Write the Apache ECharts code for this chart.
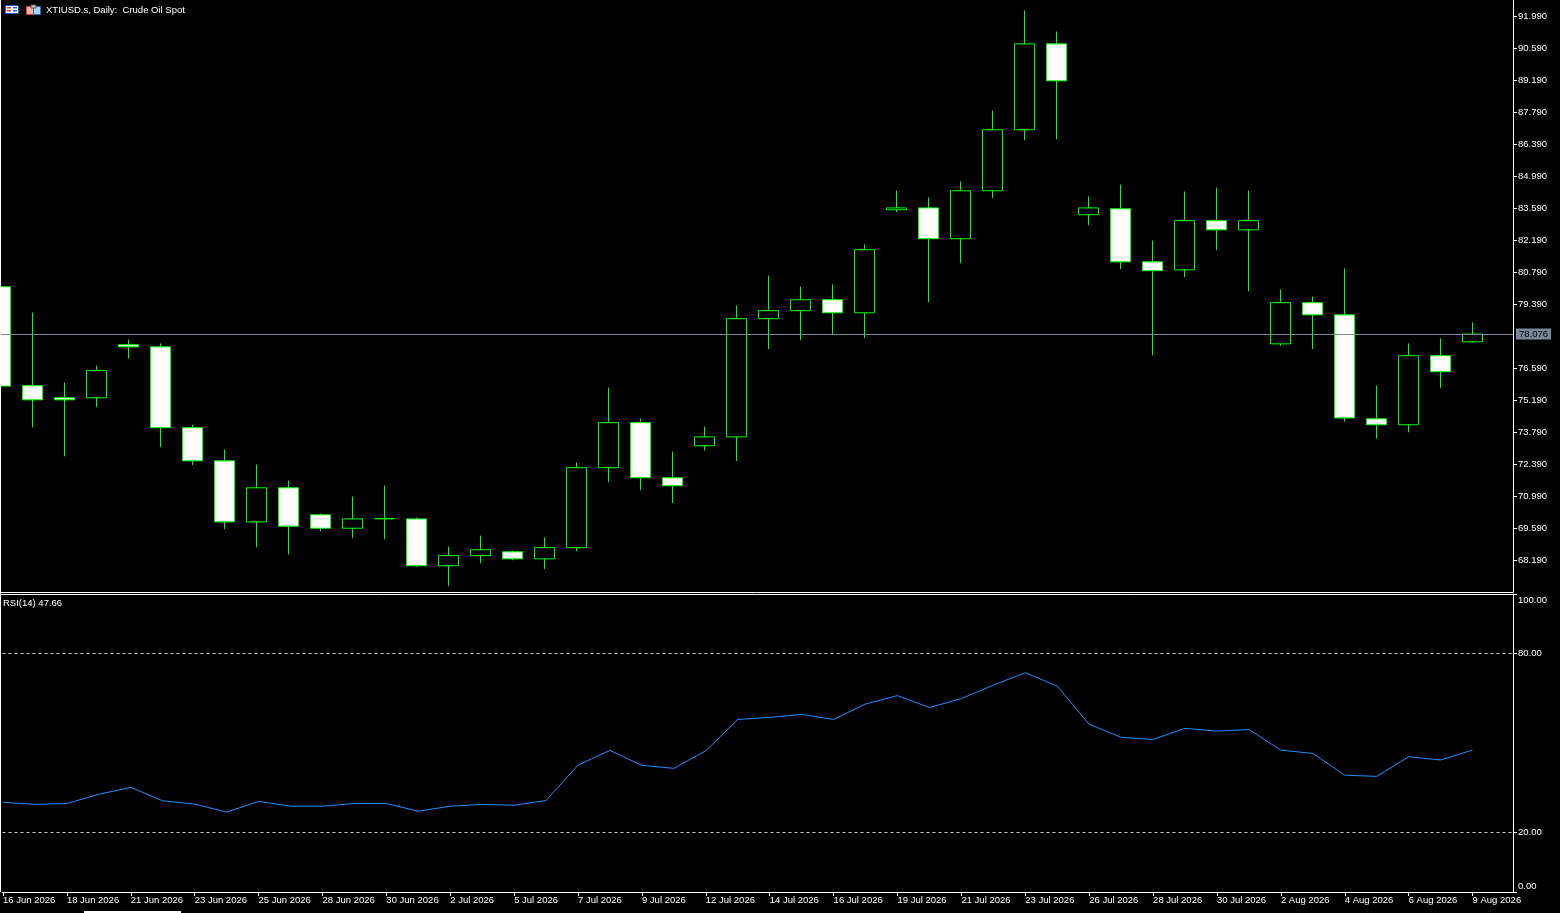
<!DOCTYPE html>
<html>
<head>
<meta charset="utf-8">
<title>XTIUSD.s, Daily</title>
<script src="https://cdn.jsdelivr.net/npm/echarts@6.0.0/dist/echarts.min.js"></script>
<style>
  html, body { margin: 0; padding: 0; background: #000; }
  #main { width: 1560px; height: 913px; }
</style>
</head>
<body>
<div id="main"></div>
<script>
// daily bars, MT4 style (no Saturday bars)
const dates = [
  '16 Jun 2026', '17 Jun 2026', '18 Jun 2026', '19 Jun 2026', '21 Jun 2026', '22 Jun 2026',
  '23 Jun 2026', '24 Jun 2026', '25 Jun 2026', '26 Jun 2026', '28 Jun 2026', '29 Jun 2026',
  '30 Jun 2026', '1 Jul 2026', '2 Jul 2026', '3 Jul 2026', '5 Jul 2026', '6 Jul 2026',
  '7 Jul 2026', '8 Jul 2026', '9 Jul 2026', '10 Jul 2026', '12 Jul 2026', '13 Jul 2026',
  '14 Jul 2026', '15 Jul 2026', '16 Jul 2026', '17 Jul 2026', '19 Jul 2026', '20 Jul 2026',
  '21 Jul 2026', '22 Jul 2026', '23 Jul 2026', '24 Jul 2026', '26 Jul 2026', '27 Jul 2026',
  '28 Jul 2026', '29 Jul 2026', '30 Jul 2026', '31 Jul 2026', '2 Aug 2026', '3 Aug 2026',
  '4 Aug 2026', '5 Aug 2026', '6 Aug 2026', '7 Aug 2026', '9 Aug 2026'
];
const opens = [
  80.15, 75.82, 75.29, 75.29, 77.61, 77.52, 73.98, 72.53, 69.86, 71.35, 70.17, 69.58,
  69.99, 69.99, 67.94, 68.38, 68.55, 68.24, 68.73, 72.23, 74.20, 71.79, 73.19, 73.58,
  78.75, 79.10, 79.58, 79.01, 83.52, 83.60, 82.25, 84.35, 87.02, 90.78, 83.30, 83.56,
  81.24, 80.89, 83.04, 82.64, 77.65, 79.45, 78.92, 74.37, 74.11, 77.13, 77.74
];
const closes = [
  75.80, 75.20, 75.20, 76.48, 77.52, 73.98, 72.53, 69.86, 71.35, 69.67, 69.58, 69.99,
  70.01, 67.94, 68.38, 68.64, 68.24, 68.73, 72.23, 74.20, 71.79, 71.44, 73.58, 78.75,
  79.10, 79.58, 79.01, 81.77, 83.60, 82.25, 84.35, 87.02, 90.78, 89.16, 83.60, 81.24,
  80.85, 83.04, 82.64, 83.04, 79.45, 78.92, 74.41, 74.11, 77.13, 76.43, 78.076
];
const lows = [
  75.50, 74.00, 72.73, 74.88, 77.01, 73.13, 72.34, 69.54, 68.75, 68.43, 69.45, 69.15,
  69.10, 67.88, 67.05, 68.05, 68.18, 67.79, 68.58, 71.60, 71.25, 70.68, 72.98, 72.52,
  77.42, 77.81, 78.05, 77.90, 83.41, 79.47, 81.18, 84.03, 86.56, 86.61, 82.84, 80.92,
  77.15, 80.57, 81.75, 79.96, 77.57, 77.42, 74.24, 73.50, 73.78, 75.71, 77.70
];
const highs = [
  80.60, 79.02, 75.96, 76.70, 77.84, 77.67, 74.11, 73.03, 72.37, 71.67, 70.23, 70.97,
  71.45, 70.05, 68.78, 69.26, 68.61, 69.18, 72.46, 75.74, 74.38, 72.94, 74.03, 79.33,
  80.64, 80.16, 80.25, 82.00, 84.36, 84.06, 84.76, 87.86, 92.24, 91.32, 84.10, 84.62,
  82.17, 84.32, 84.49, 84.36, 80.03, 79.72, 80.95, 75.83, 77.67, 77.89, 78.59
];
const rsi = [
  30.1, 29.4, 29.7, 32.8, 35.1, 30.6, 29.5, 26.8, 30.4, 28.8, 28.8, 29.7,
  29.7, 27.1, 28.8, 29.4, 29.1, 30.7, 42.6, 47.5, 42.5, 41.5, 47.4, 57.9,
  58.6, 59.6, 57.9, 63.1, 65.9, 61.9, 64.9, 69.4, 73.6, 69.1, 56.3, 51.9,
  51.2, 54.9, 54.0, 54.5, 47.6, 46.5, 39.2, 38.8, 45.4, 44.3, 47.66
];
// 77.990 is covered by the current price tag, so it is not listed
const priceTicks = [68.19, 69.59, 70.99, 72.39, 73.79, 75.19, 76.59, 79.39, 80.79,
  82.19, 83.59, 84.99, 86.39, 87.79, 89.19, 90.59, 91.99];
const rsiTicks = [0, 20, 80, 100];
const rsiLevels = [20, 80];
const lastPrice = 78.076;
const rsiName = 'RSI(14) 47.66';
const symbolTitle = 'XTIUSD.s, Daily:  Crude Oil Spot';

const FONT = 'Liberation Sans';
const xLabelIdx = dates.map((d, i) => i).filter(i => i % 2 === 0);
// one bar = 32px, bar centres sit on half pixels so the wicks stay crisp
const xMin = -0.5 / 32;
const xMax = xMin + 1513 / 32;

const chart = echarts.init(document.getElementById('main'));

const candles = opens.map((o, i) => [i, o, closes[i], lows[i], highs[i]]);
const rsiData = rsi.map((v, i) => [i, v]);

const whiteLine = { show: true, onZero: false, lineStyle: { color: '#fff', width: 1 } };

const option = {
  backgroundColor: '#000',
  animation: false,
  title: [
    { text: symbolTitle, left: 46, top: 5, padding: 0,
      textStyle: { color: '#fff', fontSize: 9.5, fontWeight: 'normal', fontFamily: FONT } },
    { text: rsiName, left: 3, top: 598, padding: 0,
      textStyle: { color: '#fff', fontSize: 9.5, fontWeight: 'normal', fontFamily: FONT } }
  ],
  grid: [
    { left: 0, right: 47, top: 0, height: 592 },
    { left: 0, right: 47, top: 594, height: 298 }
  ],
  xAxis: [
    { gridIndex: 0, type: 'value', min: xMin, max: xMax, axisLine: whiteLine,
      axisTick: { show: false }, axisLabel: { show: false }, splitLine: { show: false } },
    { gridIndex: 1, type: 'value', min: xMin, max: xMax, axisLine: whiteLine,
      axisTick: { show: true, length: 4, customValues: xLabelIdx, lineStyle: { color: '#fff' } },
      axisLabel: { customValues: xLabelIdx, align: 'left', margin: 3, color: '#fff',
        fontSize: 9.5, fontFamily: FONT, formatter: v => dates[v] || '' },
      splitLine: { show: false } }
  ],
  yAxis: [
    { gridIndex: 0, type: 'value', position: 'right', min: 66.79, max: 92.698, axisLine: whiteLine,
      axisTick: { show: true, length: 4, customValues: priceTicks, lineStyle: { color: '#fff' } },
      axisLabel: { customValues: priceTicks, margin: 5, color: '#fff', fontSize: 9.5, fontFamily: FONT,
        formatter: v => v.toFixed(3) },
      splitLine: { show: false } },
    { gridIndex: 1, type: 'value', position: 'right', min: 0, max: 100, axisLine: whiteLine,
      axisTick: { show: true, length: 4, customValues: rsiTicks, lineStyle: { color: '#fff' } },
      axisLabel: { customValues: rsiTicks, margin: 5, color: '#fff', fontSize: 9.5, fontFamily: FONT,
        formatter: v => v === 100 ? '{t|100.00}' : v === 0 ? '{b|0.00}' : v.toFixed(2),
        rich: {
          t: { padding: [12, 0, 0, 0], color: '#fff', fontSize: 9.5, fontFamily: FONT },
          b: { padding: [0, 0, 12, 0], color: '#fff', fontSize: 9.5, fontFamily: FONT }
        } },
      splitLine: { show: false } }
  ],
  series: [
    {
      type: 'candlestick',
      xAxisIndex: 0, yAxisIndex: 0,
      data: candles,
      encode: { x: 0, y: [1, 2, 3, 4] },
      barWidth: 21,
      itemStyle: { color: '#000', color0: '#fff', borderColor: '#00ff00', borderColor0: '#00ff00', borderWidth: 1 },
      markLine: {
        silent: true, symbol: ['none', 'none'],
        lineStyle: { color: '#778899', type: 'solid', width: 1 },
        label: { show: true, position: 'end', distance: 3, formatter: lastPrice.toFixed(3),
          backgroundColor: '#778899', color: '#000', padding: [1, 3, 0, 3],
          fontSize: 9.5, fontFamily: FONT },
        data: [{ yAxis: lastPrice }]
      }
    },
    {
      type: 'line',
      xAxisIndex: 1, yAxisIndex: 1,
      data: rsiData,
      showSymbol: false,
      lineStyle: { color: '#1e90ff', width: 1 },
      markLine: {
        silent: true, symbol: ['none', 'none'],
        lineStyle: { color: '#c8c8c8', type: [3, 3], width: 1 },
        label: { show: false },
        data: rsiLevels.map(v => ({ yAxis: v }))
      }
    }
  ],
  graphic: [
    // left frame line and sub-window top line, drawn over the clipped first bar
    { type: 'line', z: 100, shape: { x1: 0.5, y1: 0, x2: 0.5, y2: 892 }, style: { stroke: '#fff', lineWidth: 1 } },
    { type: 'line', z: 100, shape: { x1: 0, y1: 594.5, x2: 1513, y2: 594.5 }, style: { stroke: '#fff', lineWidth: 1 } },
    // small header icons
    { type: 'rect', shape: { x: 5.5, y: 5.5, width: 13, height: 8 }, style: { fill: '#fff', stroke: '#1f5fbf' } },
    { type: 'rect', shape: { x: 7, y: 7, width: 4, height: 1.5 }, style: { fill: '#e03c31' } },
    { type: 'rect', shape: { x: 7, y: 10, width: 4, height: 1.5 }, style: { fill: '#e03c31' } },
    { type: 'rect', shape: { x: 13, y: 7, width: 4, height: 1.5 }, style: { fill: '#1f5fbf' } },
    { type: 'rect', shape: { x: 13, y: 10, width: 4, height: 1.5 }, style: { fill: '#1f5fbf' } },
    { type: 'rect', shape: { x: 26.5, y: 6.5, width: 7, height: 8 }, style: { fill: '#f8b0a8', stroke: '#e03c31' } },
    { type: 'rect', shape: { x: 33.5, y: 6.5, width: 7, height: 8 }, style: { fill: '#a8d4f4', stroke: '#1f6fbf' } },
    { type: 'rect', shape: { x: 31, y: 5, width: 5, height: 3 }, style: { fill: '#c8c8c8', stroke: '#555' } },
    // scrollbar remnant at bottom
    { type: 'rect', shape: { x: 84, y: 911, width: 97, height: 2 }, style: { fill: '#fff' } }
  ]
};

chart.setOption(option);
</script>
</body>
</html>
